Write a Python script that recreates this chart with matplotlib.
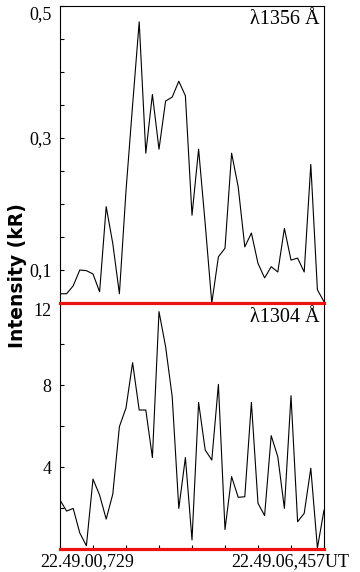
import matplotlib.pyplot as plt
import numpy as np

plt.rcParams['font.family'] = ['Liberation Serif', 'DejaVu Serif']

# intensity samples (kR), 41 equally spaced samples between the two time stamps
oi1356 = [0.064, 0.064, 0.076, 0.100, 0.099, 0.094, 0.067, 0.196, 0.140, 0.064,
          0.220, 0.350, 0.476, 0.277, 0.366, 0.283, 0.356, 0.362, 0.386, 0.364,
          0.183, 0.283, 0.170, 0.050, 0.120, 0.133, 0.277, 0.226, 0.135, 0.156,
          0.110, 0.088, 0.105, 0.097, 0.163, 0.115, 0.118, 0.097, 0.260, 0.070,
          0.052]
oi1304 = [2.39, 1.85, 1.98, 0.78, 0.16, 3.41, 2.63, 1.46, 2.68, 5.97,
          6.88, 9.09, 6.78, 6.78, 4.46, 11.58, 9.87, 7.43, 1.98, 4.46,
          0.44, 7.15, 4.83, 4.34, 8.03, 0.95, 3.53, 2.52, 2.55, 7.15,
          2.23, 1.63, 5.53, 4.50, 1.98, 7.48, 1.33, 1.74, 3.94, 0.05,
          1.90]
t_start = '22.49.00,729'
t_end = '22.49.06,457UT'

x = np.arange(len(oi1356))

fig = plt.figure(figsize=(3.6, 5.72), dpi=100)
ax2 = fig.add_axes([60/360, 1-549/572, 264/360, 246/572])
ax1 = fig.add_axes([60/360, 1-303/572, 264/360, 297/572])
ax1.set_facecolor('none')
ax2.set_facecolor('none')


def style(ax):
    ax.set_xlim(0, 40)
    ax.set_xticks(np.arange(0, 41, 5))
    ax.set_xticklabels([])
    ax.tick_params(direction='in', length=3, width=0.8, labelsize=13, pad=6)
    ax.tick_params(which='minor', direction='in', length=3, width=0.8)
    for s in ['left', 'right', 'top']:
        ax.spines[s].set_linewidth(0.8)
    ax.spines['bottom'].set_color('#ee1111')
    ax.spines['bottom'].set_linewidth(2.3)
    ax.spines['bottom'].set_zorder(5)


# top panel: 1356
ax1.plot(x, oi1356, color='black', lw=0.8)
ax1.set_ylim(0.05, 0.5)
ax1.set_yticks([0.1, 0.3, 0.5])
ax1.set_yticks(np.arange(0.05, 0.5, 0.05), minor=True)
ax1.set_yticklabels(['0,1', '0,3', '0,5'])
style(ax1)
ax1.tick_params(axis='x', length=0)
ax1.get_yticklabels()[-1].set_verticalalignment('top')
ax1.text(0.985, 0.985, 'λ1356 Å', transform=ax1.transAxes, ha='right', va='top', fontsize=14.5)

# bottom panel: 1304
ax2.plot(x, oi1304, color='black', lw=0.8)
ax2.set_ylim(0, 12)
ax2.set_yticks([4, 8, 12])
ax2.set_yticks([2, 6, 10], minor=True)
ax2.set_yticklabels(['4', '8', '12'])
style(ax2)
ax2.spines['top'].set_visible(False)
ax2.get_yticklabels()[-1].set_verticalalignment('top')
ax2.text(0.985, 0.98, 'λ1304 Å', transform=ax2.transAxes, ha='right', va='top', fontsize=14.5)

fig.text(40/360, 1-562/572, t_start, ha='left', va='center', fontsize=13)
fig.text(349/360, 1-562/572, t_end, ha='right', va='center', fontsize=13)
fig.text(18/360, 1-276/572, 'Intensity (kR)', rotation=90, ha='center', va='center',
         fontsize=13.5, fontweight='bold', family='DejaVu Sans')

fig.savefig('out.png', dpi=100)
